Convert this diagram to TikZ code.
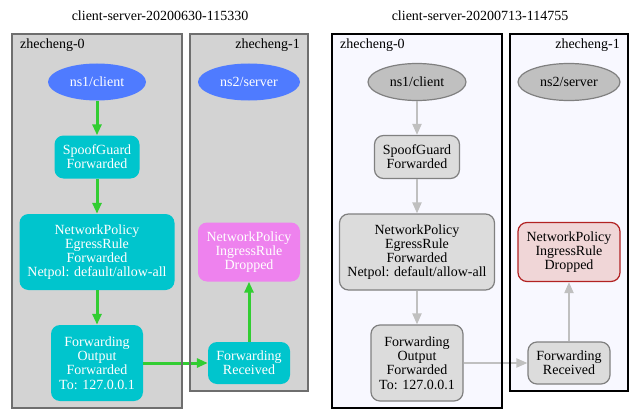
\documentclass[tikz,border=0pt]{standalone}
\usepackage{fontspec}
\setmainfont{Liberation Serif}
\usetikzlibrary{shapes.geometric,arrows.meta}
\definecolor{nodeblue}{HTML}{4F7BFF}
\definecolor{nodecyan}{HTML}{00C5CD}
\definecolor{nodeviolet}{HTML}{EE82EE}
\definecolor{edgegreen}{HTML}{32CD32}
\definecolor{clgray}{HTML}{D3D3D3}
\definecolor{clborder}{HTML}{6E6E6E}
\definecolor{ghost}{HTML}{F8F8FF}
\definecolor{silverfill}{HTML}{C0C0C0}
\definecolor{gainfill}{HTML}{DCDCDC}
\definecolor{grayline}{HTML}{808080}
\definecolor{dropfill}{HTML}{F0D6D7}
\definecolor{dropline}{HTML}{B22222}
\definecolor{edgegray}{HTML}{C0C0C0}
\tikzset{
  txt/.style={font=\fontsize{14}{14.2}\selectfont, align=center, inner sep=0pt},
  ell/.style={txt, ellipse},
  rbox/.style={txt, rectangle, rounded corners=9pt},
  colnode/.style={draw=none, text=white},
  grynode/.style={draw=grayline, line width=1.2pt, text=black},
  gedge/.style={draw=edgegreen, line width=3pt, -{Triangle[length=11pt,width=9pt]}},
  yedge/.style={draw=edgegray, line width=2pt, -{Triangle[length=11pt,width=9pt]}},
  cllabel/.style={font=\fontsize{14}{14}\selectfont, inner sep=0pt},
}
\begin{document}
\begin{tikzpicture}[x=1pt,y=-1pt]
\useasboundingbox (0,0) rectangle (640,420);
\fill[white] (0,0) rectangle (640,420);

% ---------- left panel ----------
\node[cllabel] (t1) at (160,16) {client-server-20200630-115330};
\fill[clgray] (12,34) rectangle (182,408);
\fill[clgray] (190,34) rectangle (308,391);
\node[cllabel, anchor=west] (l1a) at (20,45) {zhecheng-0};
\node[cllabel, anchor=east] (l1b) at (300,45) {zhecheng-1};

\node[ell, colnode, fill=nodeblue, minimum width=98pt, minimum height=37pt] (a1) at (97,82) {ns1/client};
\node[rbox, colnode, fill=nodecyan, minimum width=85pt, minimum height=43pt] (a2) at (97,157) {SpoofGuard\\Forwarded};
\node[rbox, colnode, fill=nodecyan, minimum width=155pt, minimum height=76pt] (a3) at (97,252) {NetworkPolicy\\EgressRule\\Forwarded\\Netpol: default/allow-all};
\node[rbox, colnode, fill=nodecyan, minimum width=92pt, minimum height=76pt] (a4) at (97,363) {Forwarding\\Output\\Forwarded\\To: 127.0.0.1};
\node[ell, colnode, fill=nodeblue, minimum width=102pt, minimum height=37pt] (a5) at (249,82) {ns2/server};
\node[rbox, colnode, fill=nodeviolet, minimum width=102pt, minimum height=59pt] (a6) at (249,252) {NetworkPolicy\\IngressRule\\Dropped};
\node[rbox, colnode, fill=nodecyan, minimum width=82pt, minimum height=42pt] (a7) at (249,363) {Forwarding\\Received};

\draw[gedge] (a1) -- (a2);
\draw[gedge] (a2) -- (a3);
\draw[gedge] (a3) -- (a4);
\draw[gedge] (a4.east) -- (a7.west);
\draw[gedge] (a7) -- (a6);

\draw[clborder, line width=1.4pt] (12,34) rectangle (182,408);
\draw[clborder, line width=1.4pt] (190,34) rectangle (308,391);

% ---------- right panel ----------
\node[cllabel] (t2) at (480,16) {client-server-20200713-114755};
\fill[ghost] (332,34) rectangle (502,408);
\fill[ghost] (510,34) rectangle (628,391);
\node[cllabel, anchor=west] (l2a) at (340,45) {zhecheng-0};
\node[cllabel, anchor=east] (l2b) at (620,45) {zhecheng-1};

\node[ell, grynode, fill=silverfill, minimum width=98pt, minimum height=37pt] (b1) at (417,82) {ns1/client};
\node[rbox, grynode, fill=gainfill, minimum width=85pt, minimum height=43pt] (b2) at (417,157) {SpoofGuard\\Forwarded};
\node[rbox, grynode, fill=gainfill, minimum width=155pt, minimum height=76pt] (b3) at (417,252) {NetworkPolicy\\EgressRule\\Forwarded\\Netpol: default/allow-all};
\node[rbox, grynode, fill=gainfill, minimum width=92pt, minimum height=76pt] (b4) at (417,363) {Forwarding\\Output\\Forwarded\\To: 127.0.0.1};
\node[ell, grynode, fill=silverfill, minimum width=102pt, minimum height=37pt] (b5) at (569,82) {ns2/server};
\node[rbox, grynode, draw=dropline, fill=dropfill, minimum width=102pt, minimum height=59pt] (b6) at (569,252) {NetworkPolicy\\IngressRule\\Dropped};
\node[rbox, grynode, fill=gainfill, minimum width=82pt, minimum height=42pt] (b7) at (569,363) {Forwarding\\Received};

\draw[yedge] (b1) -- (b2);
\draw[yedge] (b2) -- (b3);
\draw[yedge] (b3) -- (b4);
\draw[yedge] (b4.east) -- (b7.west);
\draw[yedge] (b7) -- (b6);

\draw[black, line width=2pt] (332,34) rectangle (502,408);
\draw[black, line width=2pt] (510,34) rectangle (628,391);
\end{tikzpicture}
\end{document}
